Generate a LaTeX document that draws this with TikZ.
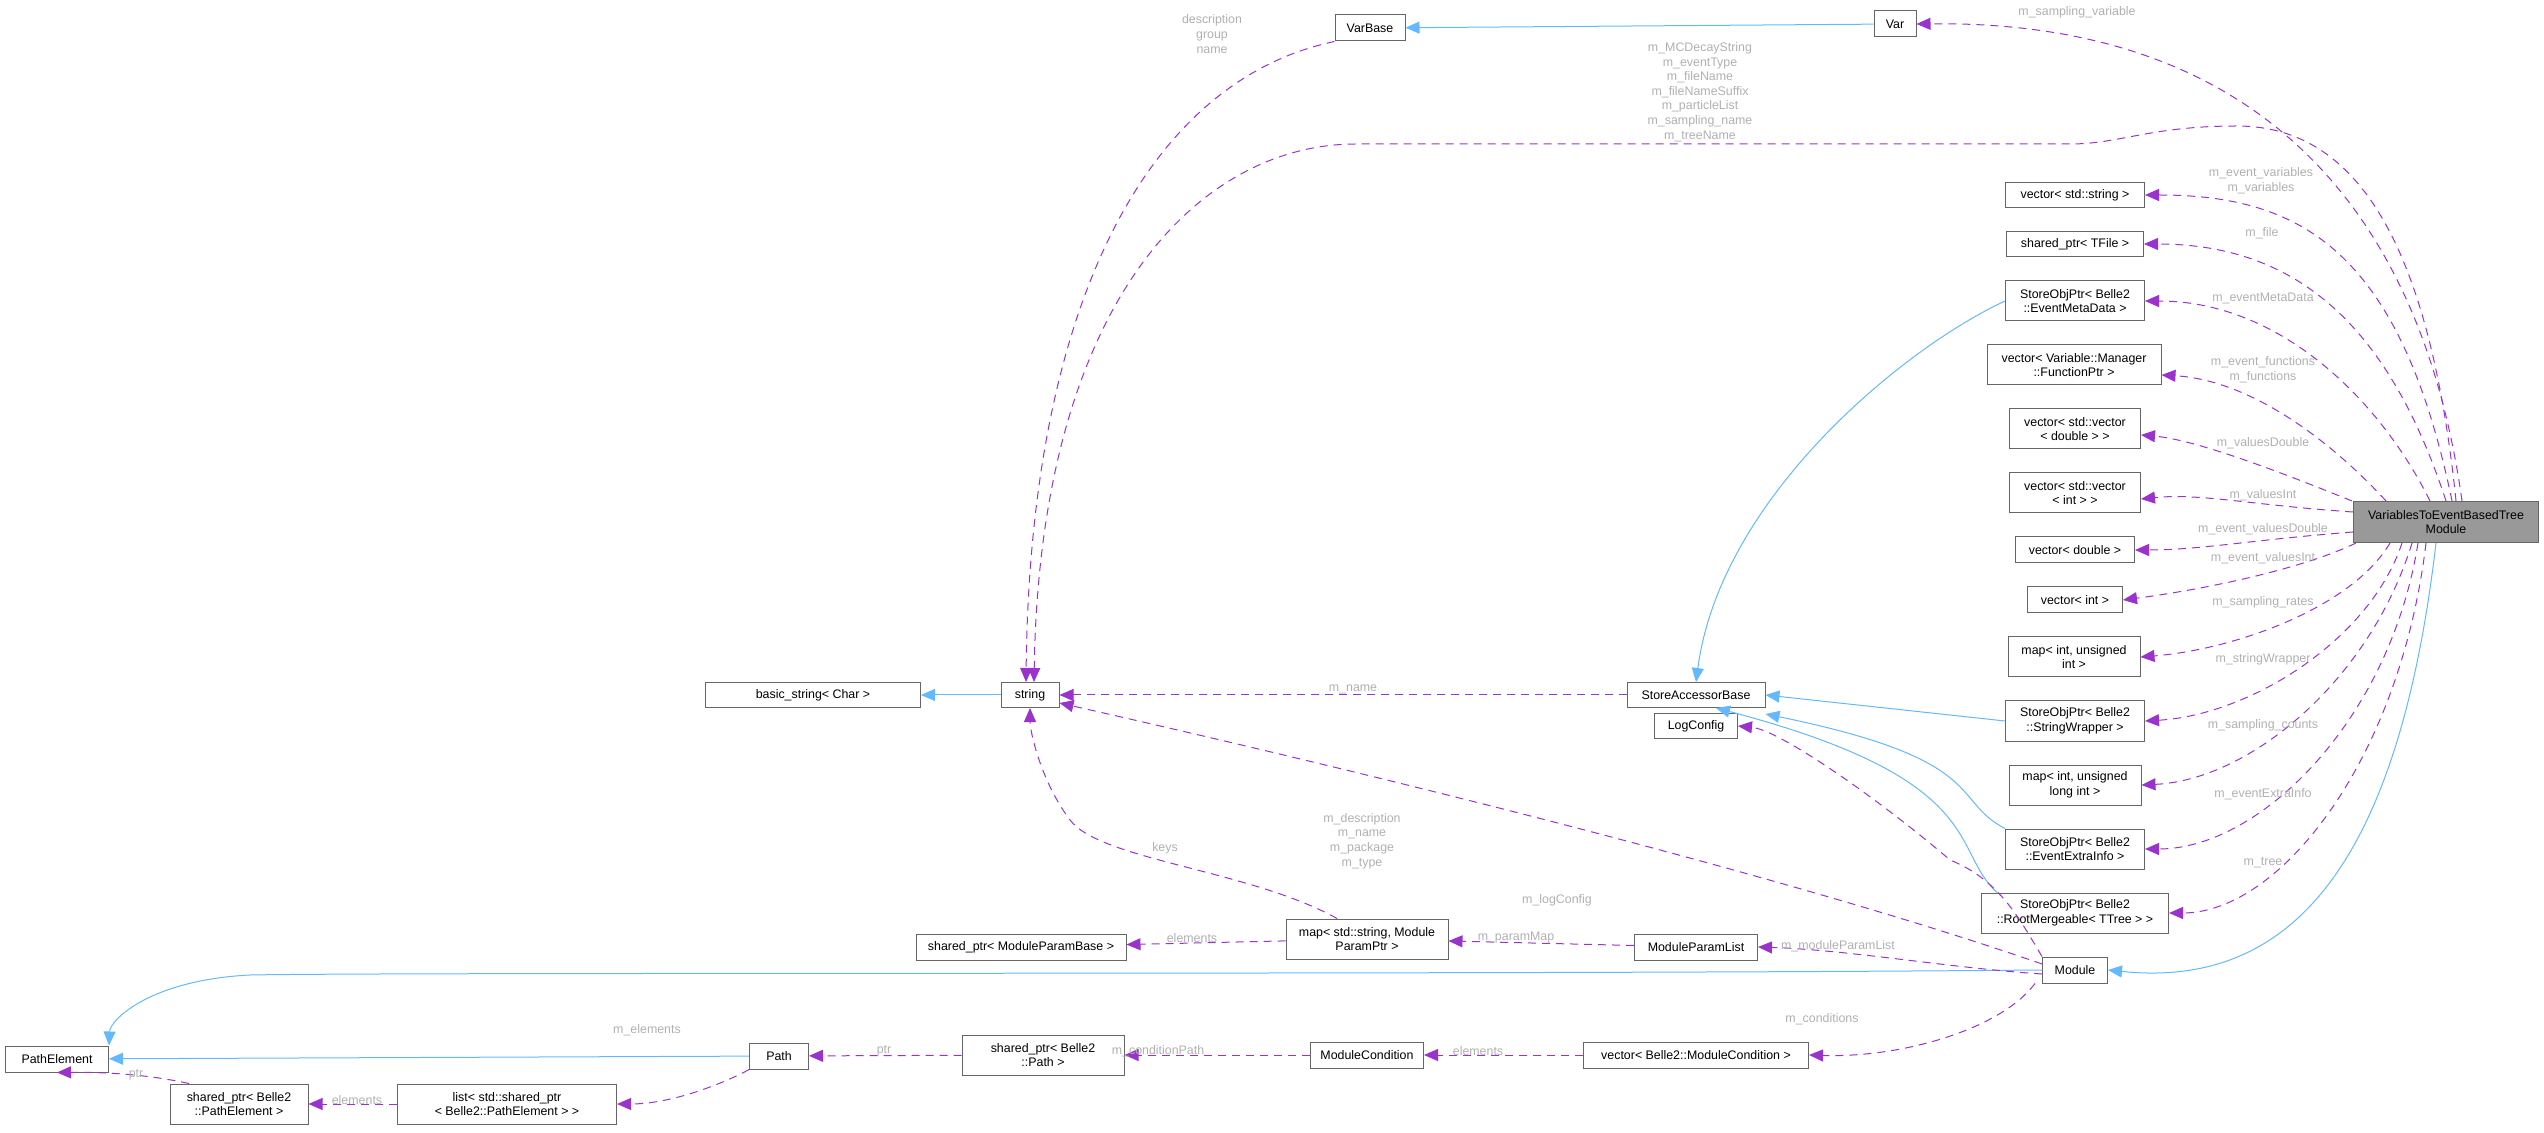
\documentclass[tikz,border=0pt]{standalone}
\usepackage{fontspec}
\setmainfont{Liberation Sans}
\usetikzlibrary{arrows.meta}

\definecolor{inhcol}{HTML}{63B8FF}
\definecolor{usecol}{HTML}{9A32CD}
\definecolor{labcol}{HTML}{B0B0B0}
\definecolor{boxcol}{HTML}{666666}

\begin{document}
\begin{tikzpicture}[x=0.5pt,y=-0.5pt,font=\fontsize{6.2}{7.3}\selectfont]
        \tikzstyle{every path}=[line width=0.5pt]
        \tikzstyle{cls}=[draw=boxcol,fill=white,inner sep=0pt,align=center]
        \tikzstyle{lab}=[text=labcol,align=center,inner sep=0pt]
        \tikzstyle{inh}=[draw=inhcol,-{Triangle[length=7pt,width=6pt]}]
        \tikzstyle{use}=[draw=usecol,dashed,dash pattern=on 4pt off 3pt,-{Triangle[length=7pt,width=6pt]}]

        \useasboundingbox (0,0) rectangle (2544,1133);

        % classes
        \node [cls,fill=black!40,minimum width=92.5pt,minimum height=20.5pt] (main) at (2446,522) {VariablesToEventBasedTree\\Module};
        \node [cls,minimum width=21pt,minimum height=13pt] (var) at (1895,24) {Var};
        \node [cls,minimum width=35pt,minimum height=13pt] (varbase) at (1370,28) {VarBase};
        \node [cls,minimum width=69.5pt,minimum height=12.5pt] (vstr) at (2075,195) {vector< std::string >};
        \node [cls,minimum width=68.5pt,minimum height=12.5pt] (tfile) at (2075,244) {shared\_ptr< TFile >};
        \node [cls,minimum width=69.5pt,minimum height=20pt] (emd) at (2075,301) {StoreObjPtr< Belle2\\::EventMetaData >};
        \node [cls,minimum width=87pt,minimum height=20pt] (vfun) at (2074,365) {vector< Variable::Manager\\::FunctionPtr >};
        \node [cls,minimum width=65.5pt,minimum height=20pt] (vvd) at (2075,429) {vector< std::vector\\< double > >};
        \node [cls,minimum width=65.5pt,minimum height=20pt] (vvi) at (2075,493) {vector< std::vector\\< int > >};
        \node [cls,minimum width=59.5pt,minimum height=13pt] (vd) at (2075,550) {vector< double >};
        \node [cls,minimum width=47.5pt,minimum height=13pt] (vi) at (2075,600) {vector< int >};
        \node [cls,minimum width=66pt,minimum height=20pt] (mui) at (2074,657) {map< int, unsigned\\int >};
        \node [cls,minimum width=69.5pt,minimum height=20pt] (swr) at (2075,721) {StoreObjPtr< Belle2\\::StringWrapper >};
        \node [cls,minimum width=66pt,minimum height=20pt] (mul) at (2075,785) {map< int, unsigned\\long int >};
        \node [cls,minimum width=69.5pt,minimum height=20pt] (eei) at (2075,849) {StoreObjPtr< Belle2\\::EventExtraInfo >};
        \node [cls,minimum width=93.5pt,minimum height=20pt] (rmt) at (2075,913) {StoreObjPtr< Belle2\\::RootMergeable< TTree > >};
        \node [cls,minimum width=32.5pt,minimum height=13pt] (module) at (2075,970) {Module};
        \node [cls,minimum width=29pt,minimum height=12.5pt] (string) at (1030,695) {string};
        \node [cls,minimum width=107.5pt,minimum height=12.5pt] (bstr) at (813,695) {basic\_string< Char >};
        \node [cls,minimum width=69pt,minimum height=12.5pt] (sab) at (1696,695) {StoreAccessorBase};
        \node [cls,minimum width=41.5pt,minimum height=12.5pt] (logc) at (1696,726) {LogConfig};
        \node [cls,minimum width=61.5pt,minimum height=13pt] (mpl) at (1696,947) {ModuleParamList};
        \node [cls,minimum width=81pt,minimum height=20pt] (mpp) at (1367,939) {map< std::string, Module\\ParamPtr >};
        \node [cls,minimum width=105pt,minimum height=13pt] (smpb) at (1021,947) {shared\_ptr< ModuleParamBase >};
        \node [cls,minimum width=51.5pt,minimum height=13pt] (pel) at (57,1059) {PathElement};
        \node [cls,minimum width=29.5pt,minimum height=13pt] (path) at (779,1056) {Path};
        \node [cls,minimum width=69pt,minimum height=20pt] (spel) at (239,1104) {shared\_ptr< Belle2\\::PathElement >};
        \node [cls,minimum width=109.5pt,minimum height=20pt] (lspel) at (507,1104) {list< std::shared\_ptr\\< Belle2::PathElement > >};
        \node [cls,minimum width=81pt,minimum height=20pt] (spath) at (1043,1055) {shared\_ptr< Belle2\\::Path >};
        \node [cls,minimum width=56.5pt,minimum height=13pt] (mcond) at (1367,1055) {ModuleCondition};
        \node [cls,minimum width=112.5pt,minimum height=13pt] (vmcond) at (1696,1055) {vector< Belle2::ModuleCondition >};

        % inheritance
        \draw[inh] (var) -- (varbase);
        \draw[inh] (string) -- (bstr);
        \draw[inh] (emd.west) .. controls (1900,350) and (1720,500) .. (sab.north);
        \draw[inh] (swr.west) -- (sab.east);
        \draw[inh] (eei.north west) .. controls (1950,800) and (1990,760) .. ([yshift=-3pt]sab.south east);
        \draw[inh] ([xshift=8pt]rmt.north west) .. controls (1950,850) and (1990,780) .. ([xshift=10pt]sab.south);
        \draw[inh] ([xshift=-5pt]main.south) .. controls (2400,850) and (2300,990) .. (module.east);
        \draw[inh] (module.west) .. controls (1500,975) and (400,972) .. (250,975) .. controls (150,980) and (110,1020) .. (pel.north east);
        \draw[inh] (path) -- (pel);

        % members
        \draw[use] ([xshift=8pt]main.north) .. controls (2420,200) and (2250,20) .. (var.east);
        \draw[use] ([xshift=5pt]main.north) .. controls (2430,250) and (2360,126) .. (2237,126) .. controls (2150,126) and (2120,144) .. (2070,144) -- (1356,144) .. controls (1200,144) and (1040,300) .. ([xshift=2pt]string.north);
        \draw[use] (varbase.south west) .. controls (1150,80) and (1030,300) .. ([xshift=-2pt]string.north);
        \draw[use] ([xshift=3pt]main.north) .. controls (2400,250) and (2300,195) .. (vstr.east);
        \draw[use] ([xshift=0pt]main.north) .. controls (2390,330) and (2300,244) .. (tfile.east);
        \draw[use] ([xshift=-8pt]main.north) .. controls (2380,400) and (2280,301) .. (emd.east);
        \draw[use] ([xshift=-30pt]main.north) .. controls (2330,440) and (2250,380) .. ([yshift=-5pt]vfun.east);
        \draw[use] ([xshift=-47pt]main.north) .. controls (2300,480) and (2200,440) .. ([yshift=-3pt]vvd.east);
        \draw[use] ([yshift=5pt]main.west) .. controls (2250,505) and (2200,493) .. ([yshift=-3pt]vvi.east);
        \draw[use] ([yshift=-5pt]main.west) .. controls (2250,540) and (2200,550) .. (vd.east);
        \draw[use] ([xshift=-45pt]main.south) .. controls (2300,570) and (2200,590) .. (vi.east);
        \draw[use] ([xshift=-28pt]main.south) .. controls (2350,610) and (2230,650) .. (mui.east);
        \draw[use] ([xshift=-22pt]main.south) .. controls (2370,640) and (2250,715) .. (swr.east);
        \draw[use] ([xshift=-17pt]main.south) .. controls (2370,680) and (2250,780) .. (mul.east);
        \draw[use] ([xshift=-14pt]main.south) .. controls (2390,720) and (2260,849) .. (eei.east);
        \draw[use] ([xshift=-10pt]main.south) .. controls (2400,760) and (2280,913) .. (rmt.east);
        \draw[use] (sab.west) -- (string.east);
        \draw[use] ([yshift=3pt]module.west) .. controls (1800,880) and (1400,780) .. ([yshift=-4pt]string.east);
        \draw[use] (module.north west) .. controls (2020,920) and (2000,880) .. (1950,860) .. controls (1880,800) and (1780,730) .. (logc.east);
        \draw[use] ([yshift=-2pt]module.west) .. controls (1950,968) and (1850,950) .. (mpl.east);
        \draw[use] ([xshift=-20pt]module.south) .. controls (2000,1030) and (1900,1058) .. (vmcond.east);
        \draw[use] (mpl) -- (mpp);
        \draw[use] ([xshift=-15pt]mpp.north) .. controls (1250,870) and (1100,860) .. (1070,820) .. controls (1040,780) and (1030,730) .. (string.south);
        \draw[use] (mpp) -- (smpb);
        \draw[use] (vmcond) -- (mcond);
        \draw[use] (mcond) -- (spath);
        \draw[use] (spath) -- (path);
        \draw[use] (path.south west) .. controls (740,1075) and (680,1104) .. (lspel.east);
        \draw[use] (lspel) -- (spel);
        \draw[use] ([xshift=-25pt]spel.north) .. controls (150,1075) and (110,1072) .. (pel.south);

        % labels
        \node [lab] (l1) at (2077,12) {m\_sampling\_variable};
        \node [lab] (l2) at (1700,92) {m\_MCDecayString\\m\_eventType\\m\_fileName\\m\_fileNameSuffix\\m\_particleList\\m\_sampling\_name\\m\_treeName};
        \node [lab] (l3) at (1212,34) {description\\group\\name};
        \node [lab] (l4) at (2261,181) {m\_event\_variables\\m\_variables};
        \node [lab] (l5) at (2262,233) {m\_file};
        \node [lab] (l6) at (2263,298) {m\_eventMetaData};
        \node [lab] (l7) at (2263,370) {m\_event\_functions\\m\_functions};
        \node [lab] (l8) at (2263,443) {m\_valuesDouble};
        \node [lab] (l9) at (2263,495) {m\_valuesInt};
        \node [lab] (l10) at (2263,529) {m\_event\_valuesDouble};
        \node [lab] (l11) at (2263,558) {m\_event\_valuesInt};
        \node [lab] (l12) at (2263,602) {m\_sampling\_rates};
        \node [lab] (l13) at (2263,659) {m\_stringWrapper};
        \node [lab] (l14) at (2263,725) {m\_sampling\_counts};
        \node [lab] (l15) at (2263,794) {m\_eventExtraInfo};
        \node [lab] (l16) at (2263,863) {m\_tree};
        \node [lab] (l17) at (1353,689) {m\_name};
        \node [lab] (l18) at (1362,841) {m\_description\\m\_name\\m\_package\\m\_type};
        \node [lab] (l19) at (1557,900) {m\_logConfig};
        \node [lab] (l20) at (1165,848) {keys};
        \node [lab] (l21) at (1516,938) {m\_paramMap};
        \node [lab] (l22) at (1192,938) {elements};
        \node [lab] (l23) at (1838,946) {m\_moduleParamList};
        \node [lab] (l24) at (1822,1019) {m\_conditions};
        \node [lab] (l25) at (1478,1051) {elements};
        \node [lab] (l26) at (1158,1051) {m\_conditionPath};
        \node [lab] (l27) at (884,1051) {ptr};
        \node [lab] (l28) at (647,1030) {m\_elements};
        \node [lab] (l29) at (357,1100) {elements};
        \node [lab] (l30) at (136,1075) {ptr};
\end{tikzpicture}
\end{document}
